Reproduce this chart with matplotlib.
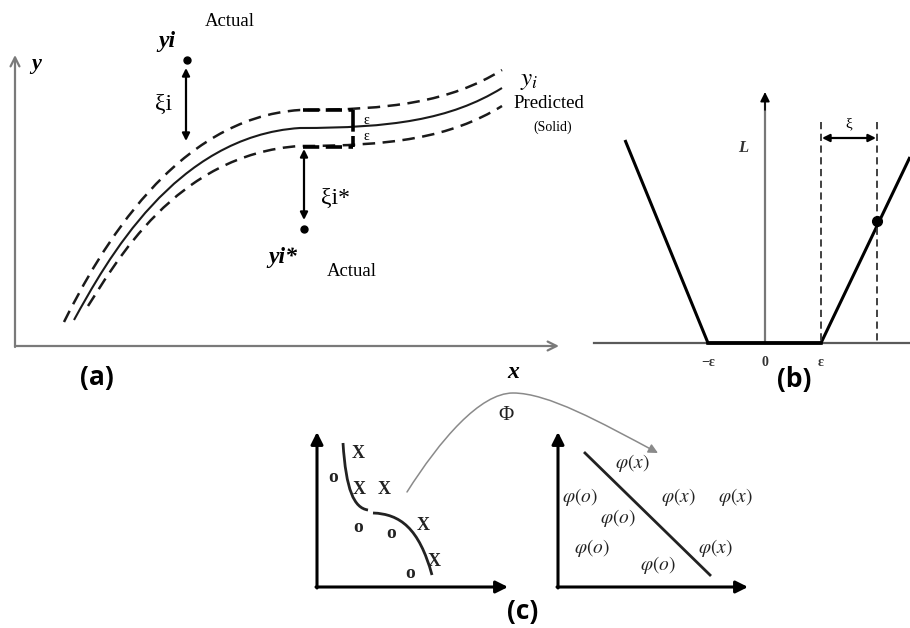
import matplotlib
matplotlib.use("Agg")
import matplotlib.pyplot as plt
from matplotlib.path import Path
from matplotlib.patches import PathPatch, FancyArrowPatch

plt.rcParams['mathtext.fontset'] = 'stix'
SERIF = ['Liberation Serif', 'DejaVu Serif']
SANS = ['Open Sans', 'Liberation Sans', 'DejaVu Sans']

# ---------------- geometry (pixel coordinates, y downward) ----------------
# panel (a): three Bezier curves (solid prediction and the epsilon tube)
upper_ctrl = [(64, 322), (100, 250), (175, 118), (300, 110), (390, 110), (450, 102), (502, 70)]
solid_ctrl = [(74, 320), (106, 262), (175, 136), (300, 128), (390, 128), (450, 120), (502, 88)]
lower_ctrl = [(88, 306), (114, 266), (175, 154), (300, 146), (390, 146), (450, 138), (502, 106)]
actual_pts = [(187, 60), (304, 229)]

# panel (b): epsilon-insensitive loss
loss_x = [625, 708, 821, 910]
loss_y = [140, 343, 343, 157]
loss_ticks = ['−ε', '0', 'ε']
loss_tick_x = [708, 765, 821]
loss_point = (877, 221)

# panel (c): input space markers and feature space labels
in_labels = ['X', 'o', 'X', 'X', 'o', 'o', 'X', 'X', 'o']
in_x = [358, 333, 359, 384, 358, 391, 423, 434, 410]
in_y = [453, 478, 489, 489, 527, 534, 525, 562, 574]
feat_labels = [r'$\varphi(x)$', r'$\varphi(o)$', r'$\varphi(x)$', r'$\varphi(x)$',
               r'$\varphi(o)$', r'$\varphi(o)$', r'$\varphi(x)$', r'$\varphi(o)$']
feat_x = [632, 580, 678, 735, 618, 592, 715, 658]
feat_y = [463, 497, 497, 497, 518, 548, 548, 565]
sep_curve_a = [(343, 443), (346, 490), (354, 508), (368, 510)]
sep_curve_b = [(373, 513), (400, 514), (419, 528), (432, 575)]
phi_arc = [(407, 492), (440, 440), (480, 393), (513, 393), (548, 393), (600, 422), (658, 453)]

fig = plt.figure(figsize=(9.1, 6.28), dpi=100)
ax = fig.add_axes([0, 0, 1, 1])
ax.set_xlim(0, 910)
ax.set_ylim(628, 0)
ax.axis('off')


def bez(pts):
    codes = [Path.MOVETO] + [Path.CURVE4] * (len(pts) - 1)
    return Path(pts, codes)


def arrow(p0, p1, style='-|>', color='k', lw=1.5, ms=12, ls='-'):
    ax.annotate('', xy=p1, xytext=p0,
                arrowprops=dict(arrowstyle=style, color=color, lw=lw, shrinkA=0, shrinkB=0,
                                mutation_scale=ms, linestyle=ls))


# ---------------- panel (a) ----------------
gray_a = '#7a7a7a'
arrow((15, 347), (15, 55), style='->', color=gray_a, lw=1.6, ms=16)
arrow((15, 346), (559, 346), style='->', color=gray_a, lw=1.6, ms=16)

ax.add_patch(PathPatch(bez(solid_ctrl), fill=False, lw=1.5, color='#1a1a1a'))
for ctrl in (upper_ctrl, lower_ctrl):
    ax.add_patch(PathPatch(bez(ctrl), fill=False, lw=1.8, color='#1a1a1a',
                           linestyle=(0, (5, 3))))

# epsilon bracket
ax.plot([303, 353], [110, 110], color='k', lw=2.6, ls=(0, (4.5, 1.8)))
ax.plot([303, 353], [147, 147], color='k', lw=2.6, ls=(0, (4.5, 1.8)))
ax.plot([353, 353], [110, 147], color='k', lw=2.6, ls=(0, (6, 1.2)))
ax.text(366, 121, 'ε', fontsize=10, family=SERIF, ha='center', va='center')
ax.text(366, 136, 'ε', fontsize=10, family=SERIF, ha='center', va='center')

# actual points and slack arrows
ax.plot([p[0] for p in actual_pts], [p[1] for p in actual_pts], 'o', color='k', ms=5)
arrow((186, 141), (186, 68), style='<|-|>', lw=1.6, ms=11)
arrow((304, 149), (304, 220), style='<|-|>', lw=1.6, ms=11)

ax.text(167, 42, 'yi', fontsize=17, family=SERIF, weight='bold', style='italic',
        ha='center', va='center')
ax.text(230, 22, 'Actual', fontsize=13.5, family=SERIF, ha='center', va='center')
ax.text(164, 104, 'ξi', fontsize=17, family=SERIF, ha='center', va='center')
ax.text(335, 198, 'ξi*', fontsize=17, family=SERIF, ha='center', va='center')
ax.text(283, 257, 'yi*', fontsize=17, family=SERIF, weight='bold', style='italic',
        ha='center', va='center')
ax.text(352, 272, 'Actual', fontsize=13.5, family=SERIF, ha='center', va='center')
ax.text(520, 80, r'$y_i$', fontsize=18, ha='left', va='center')
ax.text(549, 104, 'Predicted', fontsize=13.5, family=SERIF, ha='center', va='center')
ax.text(553, 127, '(Solid)', fontsize=10, family=SERIF, ha='center', va='center')
ax.text(36, 64, 'y', fontsize=16, family=SERIF, weight='bold', style='italic',
        ha='center', va='center')
ax.text(513, 372, 'x', fontsize=17, family=SERIF, weight='bold', style='italic',
        ha='center', va='center')
ax.text(97, 378, '(a)', fontsize=19, family=SANS, weight='bold', ha='center', va='center')

# ---------------- panel (b) ----------------
ax.plot([594, 910], [343, 343], color='#5a5a5a', lw=1.6)
ax.plot([765, 765], [343, 100], color='#777777', lw=1.6)
arrow((765, 110), (765, 92), style='-|>', color='k', lw=1.2, ms=14)
ax.plot(loss_x, loss_y, color='k', lw=2.2, solid_capstyle='butt')
ax.plot([loss_x[1], loss_x[2]], [343, 343], color='k', lw=2.6)
for xv in (821, 877):
    ax.plot([xv, xv], [122, 343], color='#333333', lw=1.3, ls=(0, (4, 2.5)))
arrow((822, 138), (876, 138), style='<|-|>', lw=1.6, ms=11)
ax.plot(*loss_point, 'o', color='k', ms=7)
ax.text(849, 124, 'ξ', fontsize=11, family=SERIF, ha='center', va='center')
ax.text(743, 148, 'L', fontsize=12, family=SERIF, style='italic', weight='bold',
        ha='center', va='center', color='#333333')
for lab, xv in zip(loss_ticks, loss_tick_x):
    ax.text(xv, 362, lab, fontsize=10, family=SERIF, weight='bold', ha='center', va='center',
            color='#333333')
ax.text(794, 380, '(b)', fontsize=19, family=SANS, weight='bold', ha='center', va='center')

# ---------------- panel (c) ----------------
arrow((317, 588), (317, 432), style='-|>', lw=2.2, ms=18)
arrow((316, 587), (508, 587), style='-|>', lw=2.2, ms=18)
arrow((558, 588), (558, 432), style='-|>', lw=2.2, ms=18)
arrow((557, 587), (748, 587), style='-|>', lw=2.2, ms=18)

ax.add_patch(PathPatch(bez(sep_curve_a), fill=False, lw=2.0, color='#222222'))
ax.add_patch(PathPatch(bez(sep_curve_b), fill=False, lw=2.0, color='#222222'))
for lab, xv, yv in zip(in_labels, in_x, in_y):
    fs = 13 if lab == 'X' else 14
    ax.text(xv, yv, lab, fontsize=fs, family=SERIF, weight='bold', ha='center', va='center',
            color='#222222')

ax.plot([585, 710], [453, 575], color='#222222', lw=2.0)
for lab, xv, yv in zip(feat_labels, feat_x, feat_y):
    ax.text(xv, yv, lab, fontsize=14, ha='center', va='center', color='#222222')

arc = FancyArrowPatch(path=bez(phi_arc), arrowstyle='-|>', mutation_scale=14,
                      color='#8a8a8a', lw=1.1)
ax.add_patch(arc)
ax.text(506, 415, 'Φ', fontsize=15, family=SERIF, ha='center', va='center', color='#222222')
ax.text(523, 612, '(c)', fontsize=19, family=SANS, weight='bold', ha='center', va='center')

fig.savefig('out.png', dpi=100)
